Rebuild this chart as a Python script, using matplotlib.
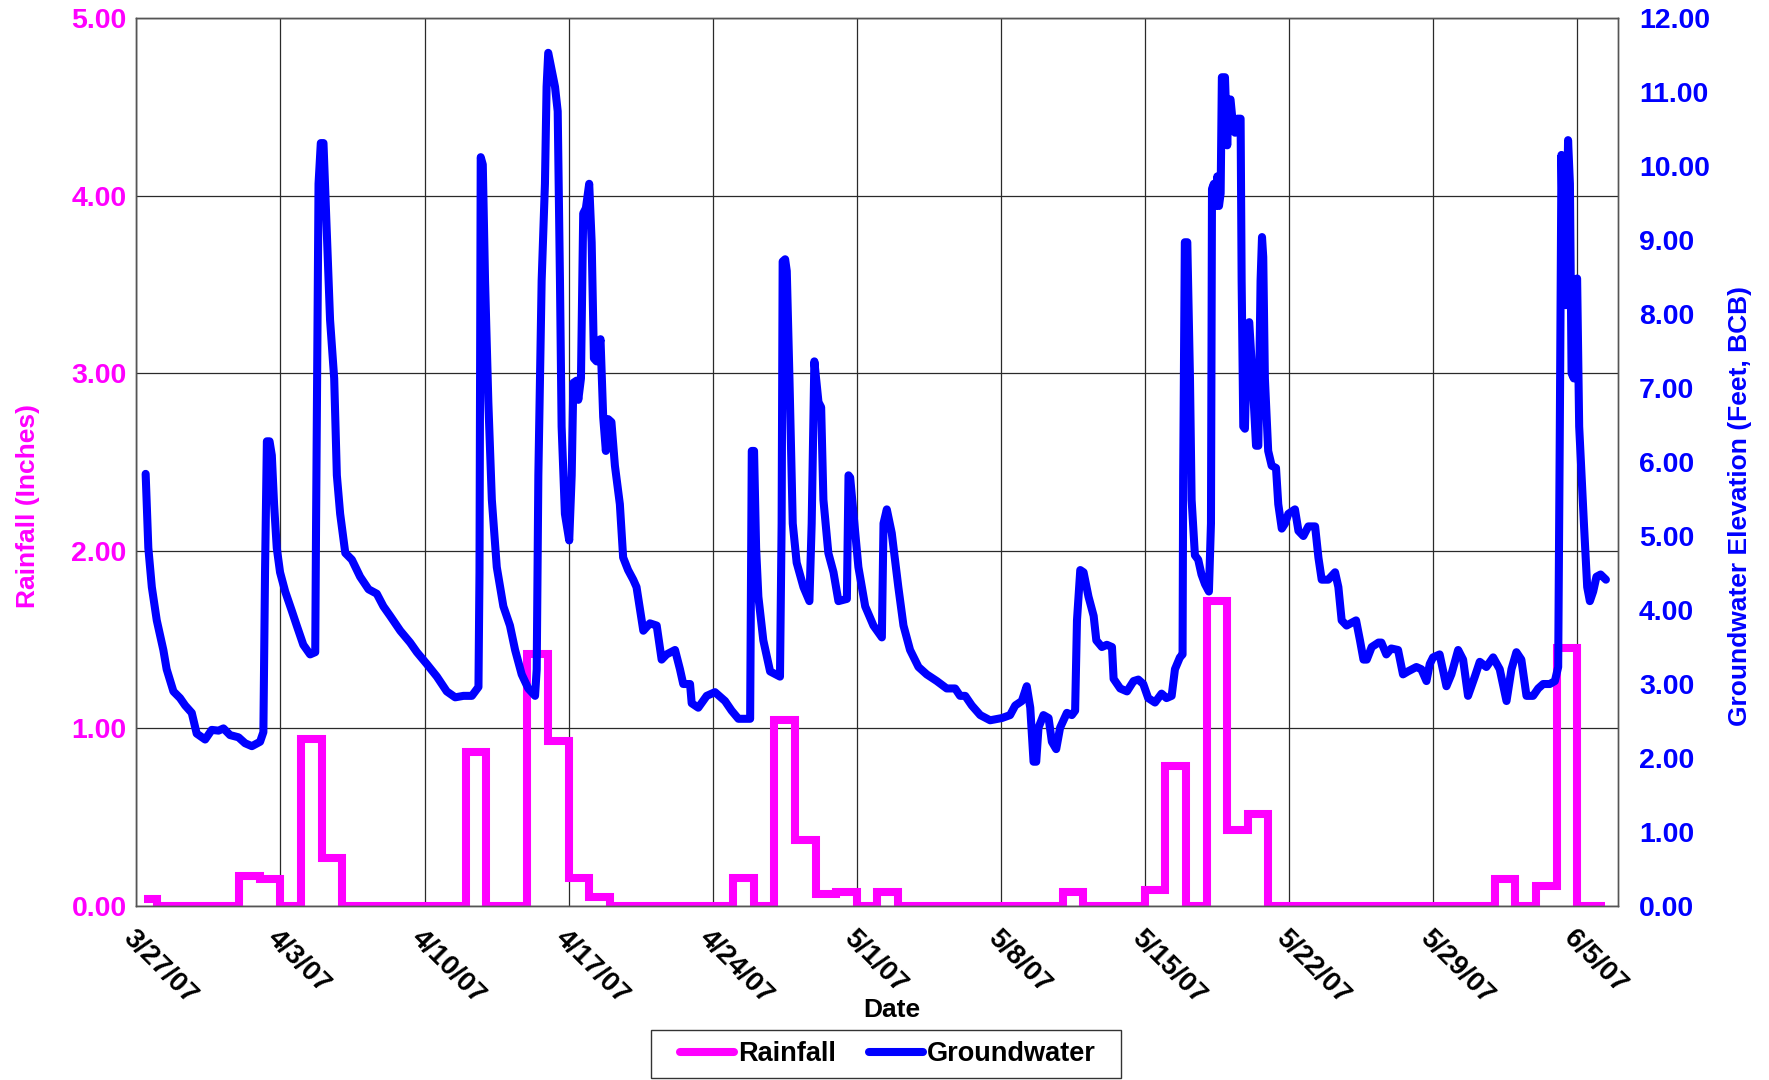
import matplotlib
matplotlib.use("Agg")
import matplotlib.pyplot as plt
import matplotlib.transforms as mtransforms
from matplotlib.patches import Rectangle
from matplotlib.lines import Line2D
import pandas as pd

plt.rcParams['font.family'] = ['Liberation Sans', 'DejaVu Sans']
plt.rcParams['font.weight'] = 'bold'

start = pd.Timestamp("2007-03-27")

# daily rainfall totals (inches), 3/27/07 .. 6/5/07
rain_in = [0.04, 0, 0, 0, 0, 0.17, 0.15, 0, 0.94, 0.27,
           0, 0, 0, 0, 0, 0, 0.87, 0, 0, 1.42,
           0.93, 0.16, 0.05, 0, 0, 0, 0, 0, 0, 0.16,
           0, 1.05, 0.37, 0.07, 0.08, 0, 0.08, 0, 0, 0,
           0, 0, 0, 0, 0, 0.08, 0, 0, 0, 0.09,
           0.79, 0, 1.72, 0.43, 0.52, 0, 0, 0, 0, 0,
           0, 0, 0, 0, 0, 0, 0.15, 0, 0.11, 1.45,
           0]
rain_first = pd.Timestamp("2007-03-27 09:00")
rain_last = pd.Timestamp("2007-06-06 08:00")

# groundwater record: days since 3/27/07 and elevation (feet, BCB)
gw_day = [0.45, 0.58, 0.75, 0.99, 1.31, 1.47, 1.80, 2.12, 2.37, 2.69,
          2.93, 3.34, 3.66, 3.99, 4.23, 4.55, 4.96, 5.28, 5.61, 6.01,
          6.17, 6.25, 6.34, 6.47, 6.58, 6.69, 6.82, 6.98, 7.23, 7.55,
          7.79, 8.11, 8.44, 8.69, 8.73, 8.85, 8.96, 9.09, 9.25, 9.41,
          9.61, 9.74, 9.90, 10.15, 10.47, 10.87, 11.28, 11.68, 12.00, 12.33,
          12.82, 13.30, 13.63, 14.11, 14.60, 15.08, 15.49, 15.89, 16.30, 16.62,
          16.67, 16.73, 16.83, 16.94, 17.10, 17.27, 17.51, 17.83, 18.15, 18.40,
          18.72, 19.04, 19.37, 19.45, 19.53, 19.69, 19.85, 19.93, 20.01, 20.13,
          20.34, 20.47, 20.58, 20.66, 20.82, 21.03, 21.15, 21.23, 21.39, 21.47,
          21.60, 21.71, 21.84, 22.00, 22.12, 22.23, 22.36, 22.55, 22.68, 22.81,
          22.92, 23.08, 23.25, 23.49, 23.65, 23.89, 24.14,
          24.30, 24.55, 24.63, 24.95, 25.28, 25.52, 25.76, 26.17, 26.41, 26.57,
          26.90, 26.98, 27.30, 27.71, 28.11, 28.60, 28.92, 29.25, 29.82, 29.90,
          30.01, 30.11, 30.22, 30.46, 30.79, 31.27, 31.35, 31.40, 31.52, 31.60,
          31.73, 31.89, 32.08, 32.41, 32.70, 32.81, 32.94, 33.14, 33.27, 33.38,
          33.62, 33.87, 34.11, 34.52, 34.60, 34.68, 34.84, 35.08, 35.41, 35.81,
          36.22, 36.30,
          36.46, 36.70, 37.02, 37.27, 37.59, 38.00, 38.40, 38.89, 39.37, 39.78,
          40.02, 40.27, 40.59, 41.00, 41.48, 42.05, 42.45, 42.70, 43.02, 43.26,
          43.43, 43.59, 43.72, 43.83, 44.07, 44.32, 44.48, 44.69, 44.88, 45.21,
          45.45, 45.61, 45.70, 45.86, 46.02, 46.26, 46.51, 46.64, 46.91, 47.15,
          47.40, 47.48, 47.80, 48.13, 48.45,
          48.68, 48.92, 49.16, 49.49, 49.81, 50.05, 50.30, 50.46, 50.70, 50.83,
          50.86, 50.94, 51.06, 51.19, 51.27, 51.43, 51.59, 51.75, 51.92, 52.11,
          52.21, 52.26, 52.35, 52.43, 52.52, 52.60, 52.68, 52.74, 52.89, 53.00,
          53.07, 53.16, 53.26, 53.38, 53.49, 53.65, 53.70, 53.78, 53.86, 53.98,
          54.07, 54.23, 54.40, 54.51, 54.62, 54.69, 54.75, 54.83, 54.99, 55.16,
          55.37, 55.48, 55.65, 55.81, 55.97, 56.29, 56.46, 56.70, 56.94, 57.27,
          57.43, 57.59, 57.91, 58.24, 58.40, 58.56, 58.80, 59.26, 59.45, 59.62,
          59.78, 60.02, 60.35,
          60.49, 60.73, 60.97, 61.30, 61.54, 61.78, 62.19, 62.43, 62.68, 62.84,
          63.00, 63.32, 63.65, 63.89, 64.22, 64.46, 64.70, 65.03, 65.27, 65.59,
          65.92, 66.24, 66.57, 66.81, 67.05, 67.29, 67.54, 67.86, 68.11, 68.35,
          68.67, 68.92, 69.08, 69.16, 69.24, 69.35, 69.45, 69.56, 69.65, 69.73,
          69.84, 69.94, 70.00, 70.10, 70.33, 70.49, 70.62, 70.78, 70.94, 71.14,
          71.40]

gw_ft = [5.84, 4.84, 4.31, 3.86, 3.46, 3.20, 2.90, 2.81, 2.71, 2.61,
         2.33, 2.25, 2.38, 2.37, 2.40, 2.31, 2.28, 2.20, 2.16, 2.22,
         2.35, 4.51, 6.28, 6.28, 6.09, 5.43, 4.84, 4.51, 4.25, 3.99,
         3.79, 3.53, 3.40, 3.43, 5.17, 9.76, 10.31, 10.31, 9.10, 7.92,
         7.13, 5.82, 5.30, 4.77, 4.68, 4.45, 4.28, 4.22, 4.05, 3.92,
         3.72, 3.56, 3.43, 3.27, 3.10, 2.90, 2.82, 2.84, 2.84, 2.96,
         4.51, 10.12, 10.02, 8.45, 6.81, 5.49, 4.58, 4.05, 3.79, 3.46,
         3.13, 2.94, 2.84, 3.20, 5.82, 8.45, 9.76, 11.07, 11.53, 11.36,
         11.07, 10.74, 8.45, 6.48, 5.30, 4.94, 5.82, 7.07, 7.10, 6.84,
         7.13, 9.36, 9.43, 9.76, 8.97, 7.40, 7.36, 7.66, 6.61, 6.15,
         6.58, 6.54, 5.95, 5.43, 4.71, 4.54, 4.41,
         4.31, 3.86, 3.72, 3.82, 3.79, 3.33, 3.40, 3.46, 3.20, 3.00,
         3.00, 2.74, 2.68, 2.84, 2.89, 2.77, 2.64, 2.53, 2.53, 6.15,
         6.15, 4.84, 4.18, 3.59, 3.17, 3.10, 5.17, 8.71, 8.74, 8.58,
         7.13, 5.17, 4.64, 4.31, 4.12, 5.17, 7.36, 6.81, 6.74, 5.49,
         4.77, 4.51, 4.12, 4.15, 5.82, 5.79, 5.30, 4.58, 4.05, 3.79,
         3.63, 5.17,
         5.36, 5.04, 4.31, 3.79, 3.46, 3.23, 3.13, 3.04, 2.94, 2.94,
         2.84, 2.84, 2.71, 2.58, 2.51, 2.54, 2.58, 2.71, 2.77, 2.97,
         2.68, 1.95, 1.95, 2.41, 2.58, 2.54, 2.22, 2.12, 2.41, 2.61,
         2.58, 2.64, 3.86, 4.54, 4.51, 4.18, 3.92, 3.59, 3.50, 3.53,
         3.50, 3.07, 2.94, 2.90, 3.04,
         3.06, 3.00, 2.81, 2.75, 2.87, 2.81, 2.84, 3.20, 3.36, 3.40,
         5.82, 8.97, 8.97, 7.13, 5.49, 4.74, 4.68, 4.48, 4.35, 4.25,
         5.17, 9.69, 9.76, 9.46, 9.86, 9.46, 9.63, 11.20, 11.20, 10.28,
         10.87, 10.90, 10.61, 10.45, 10.64, 10.64, 8.45, 6.48, 6.45, 7.86,
         7.89, 7.13, 6.22, 6.22, 8.45, 9.04, 8.77, 7.13, 6.15, 5.95,
         5.92, 5.43, 5.10, 5.17, 5.30, 5.36, 5.07, 5.00, 5.13, 5.13,
         4.71, 4.41, 4.41, 4.51, 4.31, 3.86, 3.79, 3.86, 3.59, 3.33,
         3.33, 3.50, 3.56,
         3.56, 3.40, 3.48, 3.46, 3.13, 3.17, 3.23, 3.20, 3.04, 3.27,
         3.36, 3.40, 2.97, 3.13, 3.46, 3.33, 2.84, 3.10, 3.30, 3.23,
         3.36, 3.20, 2.77, 3.20, 3.43, 3.33, 2.84, 2.84, 2.94, 3.00,
         3.00, 3.04, 3.23, 6.48, 10.15, 8.32, 8.12, 10.35, 9.76, 7.20,
         7.13, 8.45, 8.48, 6.48, 5.17, 4.31, 4.12, 4.25, 4.45, 4.48,
         4.41]

rain_ticks = [0, 1, 2, 3, 4, 5]
gw_ticks = list(range(0, 13))

MAGENTA = "#FF00FF"
BLUE = "#0000FF"
FS = 19        # axis titles
FS_TICK = 20.5 # tick labels
LW = 5.8

# rainfall step series: each value holds for one day
rain_t = [rain_first] + [start + pd.Timedelta(days=k) for k in range(1, len(rain_in))] + [rain_last]
rain_v = rain_in + [rain_in[-1]]
gw_t = [start + pd.Timedelta(days=d) for d in gw_day]

fig = plt.figure(figsize=(17.69, 10.80), dpi=100)
ax = fig.add_axes([0.0771, 0.1611, 0.8377, 0.8222])
ax2 = ax.twinx()

ax.step(rain_t, rain_v, where="post", color=MAGENTA, lw=LW,
        solid_joinstyle="miter", solid_capstyle="butt")
ax2.plot(gw_t, gw_ft, color=BLUE, lw=LW,
         solid_joinstyle="round", solid_capstyle="round")

x_end = pd.Timestamp("2007-06-07")
ax.set_xlim(start, x_end)
ax.set_ylim(0, 5)
ax2.set_ylim(0, 12)

week_ticks = pd.date_range(start, "2007-06-05", freq="7D")
ax.set_xticks(week_ticks)
ax.set_xticklabels([f"{d.month}/{d.day}/{d:%y}" for d in week_ticks],
                   rotation=-45, ha="left", va="top", rotation_mode="anchor",
                   fontsize=20, fontweight="bold")
# nudge the slanted date labels a little to the right
shift = mtransforms.ScaledTranslation(0.07, 0, fig.dpi_scale_trans)
for lbl in ax.get_xticklabels():
    lbl.set_transform(lbl.get_transform() + shift)

ax.set_yticks(rain_ticks)
ax.set_yticklabels([f"{v:.2f}" for v in rain_ticks], color=MAGENTA,
                   fontsize=FS_TICK, fontweight="bold")
ax2.set_yticks(gw_ticks)
ax2.set_yticklabels([f"{v:.2f}" for v in gw_ticks], color=BLUE,
                    fontsize=FS_TICK, fontweight="bold")

ax.tick_params(axis="x", length=0, pad=14)
ax.tick_params(axis="y", length=0, pad=7)
ax2.tick_params(axis="y", length=0, pad=15)

ax.grid(True, color="#2a2a2a", lw=0.9)
ax.set_axisbelow(True)
for a in (ax, ax2):
    for s in a.spines.values():
        s.set_color("#555555")
        s.set_linewidth(1.0)

ax.set_ylabel("Rainfall (Inches)", color=MAGENTA, fontsize=FS, fontweight="bold")
ax.yaxis.set_label_coords(-0.065, 0.45)
ax2.set_ylabel("Groundwater Elevation (Feet, BCB)", color=BLUE, fontsize=FS,
               fontweight="bold")
ax2.yaxis.set_label_coords(1.074, 0.45)
ax.set_xlabel("Date", fontsize=FS, fontweight="bold")
ax.xaxis.set_label_coords(0.51, -0.104)

# legend below the chart, boxed
handles = [Line2D([], [], color=MAGENTA, lw=LW, solid_capstyle="round"),
           Line2D([], [], color=BLUE, lw=LW, solid_capstyle="round")]
fig.legend(handles, ["Rainfall", "Groundwater"], loc="center",
           bbox_to_anchor=(0.502, 0.024), ncol=2, frameon=False,
           prop={"size": 19.5, "weight": "bold"}, handlelength=2.0,
           handletextpad=0.15, columnspacing=1.2)
fig.patches.append(Rectangle((0.368, 0.0019), 0.2657, 0.0444,
                             transform=fig.transFigure, fill=False,
                             edgecolor="#333333", lw=1.0))

fig.savefig("out.png", dpi=100)
